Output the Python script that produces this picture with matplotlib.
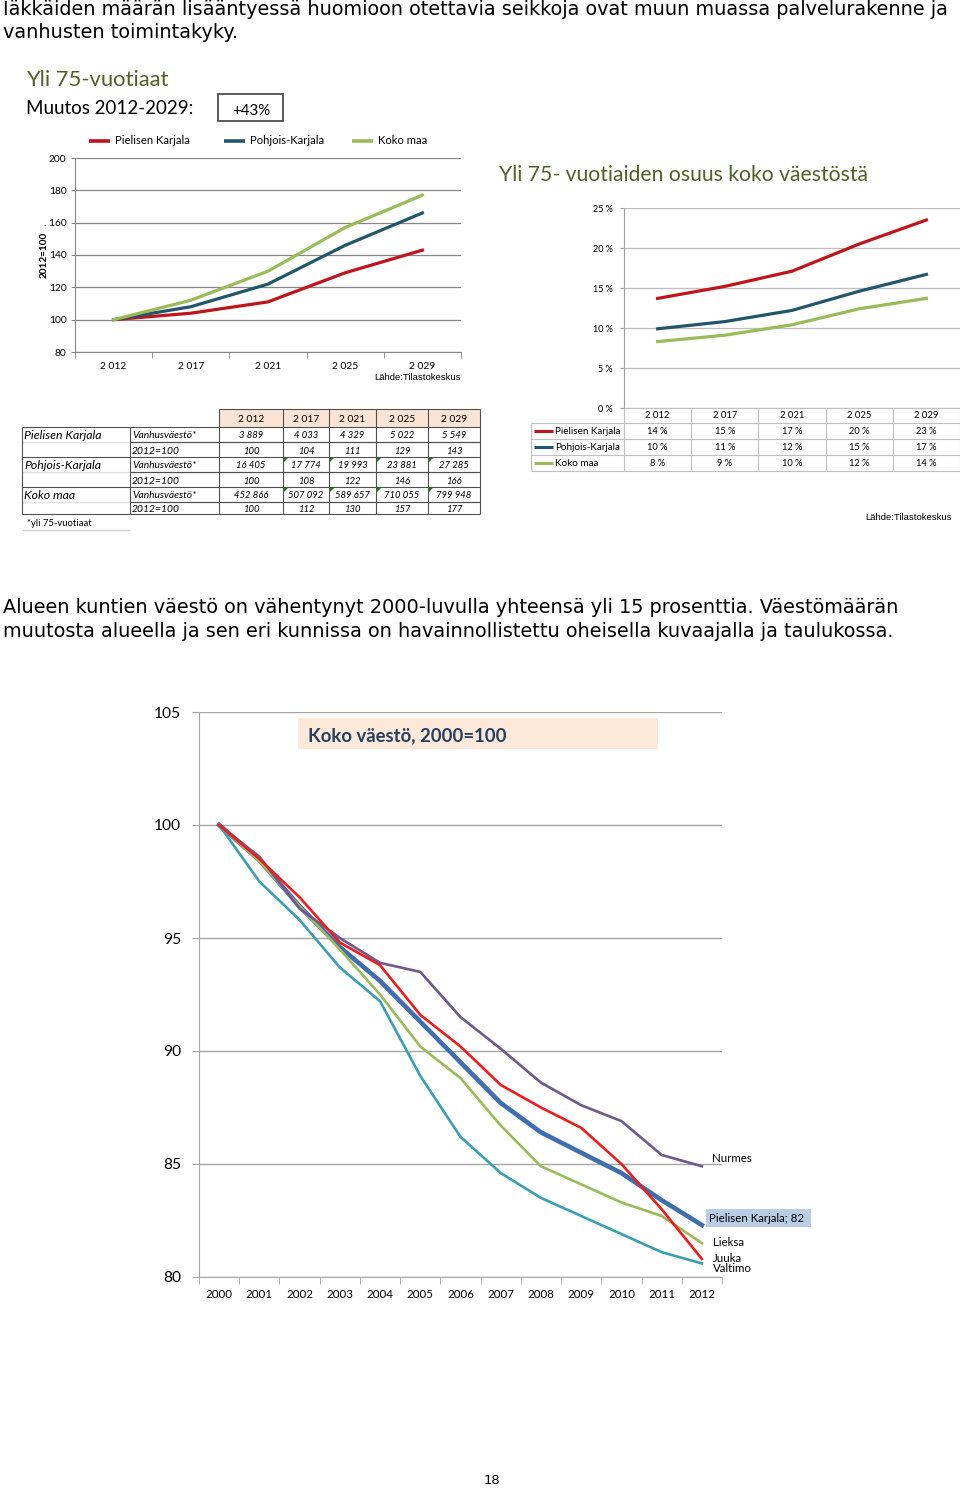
import matplotlib
matplotlib.use('Agg')
import matplotlib.pyplot as plt
from matplotlib.patches import Rectangle, Polygon

# ---------------- data ----------------
years_75 = ['2 012', '2 017', '2 021', '2 025', '2 029']
series_75 = ['Pielisen Karjala', 'Pohjois-Karjala', 'Koko maa']
idx_pielisen = [100, 104, 111, 129, 143]
idx_pohjois = [100, 108, 122, 146, 166]
idx_koko = [100, 112, 130, 157, 177]
pop_pielisen = ['3 889', '4 033', '4 329', '5 022', '5 549']
pop_pohjois = ['16 405', '17 774', '19 993', '23 881', '27 285']
pop_koko = ['452 866', '507 092', '589 657', '710 055', '799 948']
idx_ticks = [80, 100, 120, 140, 160, 180, 200]
idx_ticklabels = ['80', '100', '120', '140', '. 160', '180', '200']

share_pielisen = [13.7, 15.2, 17.1, 20.5, 23.5]
share_pohjois = [9.9, 10.8, 12.2, 14.6, 16.7]
share_koko = [8.3, 9.1, 10.4, 12.4, 13.7]
share_txt_pielisen = ['14 %', '15 %', '17 %', '20 %', '23 %']
share_txt_pohjois = ['10 %', '11 %', '12 %', '15 %', '17 %']
share_txt_koko = ['8 %', '9 %', '10 %', '12 %', '14 %']
share_ticks = [0, 5, 10, 15, 20, 25]

years_pop = ['2000', '2001', '2002', '2003', '2004', '2005', '2006',
             '2007', '2008', '2009', '2010', '2011', '2012']
pop_pielisen_k = [100, 98.45, 96.4, 94.6, 93.1, 91.3, 89.5, 87.7, 86.4, 85.5, 84.6, 83.4, 82.3]
pop_nurmes = [100, 98.6, 96.3, 95.0, 93.9, 93.5, 91.5, 90.1, 88.6, 87.6, 86.9, 85.4, 84.9]
pop_juuka = [100, 98.5, 96.8, 94.8, 93.8, 91.6, 90.2, 88.5, 87.5, 86.6, 85.0, 83.0, 80.8]
pop_lieksa = [100, 98.4, 96.4, 94.5, 92.5, 90.2, 88.8, 86.7, 84.9, 84.1, 83.3, 82.7, 81.5]
pop_valtimo = [100, 97.5, 95.8, 93.7, 92.2, 88.9, 86.2, 84.6, 83.5, 82.7, 81.9, 81.1, 80.6]
pop_ticks = [80, 85, 90, 95, 100, 105]

# ---------------- styles ----------------
W, H = 960, 1488
RED = '#c0141c'
TEAL = '#23566a'
LGREEN = '#9bbb59'
OLIVE = '#4f6228'
CH = 'Lato'
PT = 0.72  # px -> pt

fig = plt.figure(figsize=(W / 100, H / 100), dpi=100)
page = fig.add_axes([0, 0, 1, 1])
page.set_xlim(0, W)
page.set_ylim(H, 0)
page.axis('off')


def ax_px(l, t, r, b):
    a = fig.add_axes([l / W, 1 - b / H, (r - l) / W, (b - t) / H])
    a.set_facecolor('none')
    return a


def ptxt(x, y, s, size, **kw):
    kw.setdefault('va', 'center')
    kw.setdefault('family', CH)
    page.text(x, y, s, fontsize=size * PT, **kw)


def hline(x0, x1, y, c='#404040', lw=0.8):
    page.plot([x0, x1], [y, y], color=c, lw=lw, solid_capstyle='butt')


def vline(x, y0, y1, c='#404040', lw=0.8):
    page.plot([x, x], [y0, y1], color=c, lw=lw, solid_capstyle='butt')


# ---------------- page texts ----------------
body = dict(family='DejaVu Sans', va='baseline')
ptxt(3, 15, 'Iäkkäiden määrän lisääntyessä huomioon otettavia seikkoja ovat muun muassa palvelurakenne ja', 19.3, **body)
ptxt(3, 38, 'vanhusten toimintakyky.', 19.3, **body)
ptxt(3, 613, 'Alueen kuntien väestö on vähentynyt 2000-luvulla yhteensä yli 15 prosenttia. Väestömäärän', 19.3, **body)
ptxt(3, 637, 'muutosta alueella ja sen eri kunnissa on havainnollistettu oheisella kuvaajalla ja taulukossa.', 19.3, **body)
ptxt(492, 1481, '18', 13, family='DejaVu Sans', ha='center')

ptxt(26, 80, 'Yli 75-vuotiaat', 22, color=OLIVE)
ptxt(26, 109, 'Muutos 2012-2029:', 18.8, color='black')
page.add_patch(Rectangle((218, 94), 65, 27, fill=False, ec='#404040', lw=1.2))
ptxt(251, 111, '+43%', 15, ha='center', color='black')

# ---------------- chart 1: index 2012=100 ----------------
a1 = ax_px(75, 158, 461, 352)
xs = range(len(years_75))
a1.plot(xs, idx_pielisen, color=RED, lw=2.3, zorder=3)
a1.plot(xs, idx_pohjois, color=TEAL, lw=2.3, zorder=3)
a1.plot(xs, idx_koko, color=LGREEN, lw=2.3, zorder=3)
a1.set_xlim(-0.5, len(years_75) - 0.5)
a1.set_ylim(80, 200)
a1.set_yticks(idx_ticks)
a1.set_yticklabels(idx_ticklabels, family=CH, fontsize=10.3 * PT)
a1.set_xticks(list(xs))
a1.set_xticklabels(years_75, family=CH, fontsize=10.3 * PT)
a1.set_xticks([i - 0.5 for i in range(len(years_75) + 1)], minor=True)
a1.tick_params(axis='x', which='major', length=0, pad=7)
a1.tick_params(axis='x', which='minor', length=4, color='#868686')
a1.tick_params(axis='y', length=3, color='#868686', pad=3)
a1.grid(axis='y', color='#868686', lw=0.9)
a1.set_axisbelow(True)
for s in ['top', 'right']:
    a1.spines[s].set_visible(False)
for s in ['left', 'bottom']:
    a1.spines[s].set_color('#868686')
a1.set_ylabel('2012=100', family=CH, fontsize=10 * PT, fontweight='bold')
a1.yaxis.set_label_coords(-0.068, 0.5)
ptxt(374, 378, 'Lähde:Tilastokeskus', 9.5, family='Liberation Sans')

# legend chart 1
for x0, name, c in zip([89, 224, 352], series_75, [RED, TEAL, LGREEN]):
    page.plot([x0, x0 + 21], [141, 141], color=c, lw=2.6, solid_capstyle='butt')
    ptxt(x0 + 26, 141, name, 11.3)

# ---------------- table left ----------------
col_b = [219, 283, 329, 376, 428, 480]
row_b = [409, 427, 442, 457, 472, 487, 502, 514]
page.add_patch(Rectangle((219, 409), 261, 18, fc='#fbe4d5', ec='none'))
LC = '#505050'
hline(219, 480, 409, LC)
for y in row_b[1:]:
    hline(22, 480, y, LC)
for y in [row_b[2], row_b[4], row_b[6]]:
    page.plot([22, 130], [y, y], color='white', lw=1.2)
    hline(130, 480, y, LC)
vline(22, 427, 514, LC)
vline(130, 427, 514, LC)
for x in col_b:
    vline(x, 409, 514, LC)
for j, yr in enumerate(years_75):
    ptxt((col_b[j] + col_b[j + 1]) / 2, 419, yr, 10.3, ha='center')
blocks = [(series_75[0], pop_pielisen, idx_pielisen),
          (series_75[1], pop_pohjois, idx_pohjois),
          (series_75[2], pop_koko, idx_koko)]
for k, (name, pops, idxs) in enumerate(blocks):
    r0 = row_b[1 + 2 * k]
    r1 = row_b[2 + 2 * k]
    r2 = row_b[3 + 2 * k]
    ptxt(24, (r0 + r1) / 2 + 1, name, 12.3, style='italic')
    ptxt(132, (r0 + r1) / 2 + 1, 'Vanhusväestö*', 10.3, style='italic')
    ptxt(132, (r1 + r2) / 2 + 1.5, '2012=100', 10.3, style='italic')
    for j in range(len(years_75)):
        cx = (col_b[j] + col_b[j + 1]) / 2
        ptxt(cx, (r0 + r1) / 2 + 1, pops[j], 9.5, ha='center', style='italic')
        ptxt(cx, (r1 + r2) / 2 + 1.5, str(idxs[j]), 9.5, ha='center', style='italic')
        if k > 0 and j > 0:
            x = col_b[j] + 1
            page.add_patch(Polygon([[x, r0 + 1], [x + 4, r0 + 1], [x, r0 + 5]],
                                   closed=True, fc='#1e7b1e', ec='none'))
ptxt(27, 523, '*yli 75-vuotiaat', 9.5)
hline(22, 130, 530, '#d0d0d0', 1.0)

# ---------------- chart 2: share of population ----------------
ptxt(499, 175, 'Yli 75- vuotiaiden osuus koko väestöstä', 21.2, color=OLIVE)
a2 = ax_px(624, 208, 960, 408)
a2.plot(xs, share_pielisen, color=RED, lw=2.3)
a2.plot(xs, share_pohjois, color=TEAL, lw=2.3)
a2.plot(xs, share_koko, color=LGREEN, lw=2.3)
a2.set_xlim(-0.5, len(years_75) - 0.5)
a2.set_ylim(0, 25)
a2.set_yticks(share_ticks)
a2.set_yticklabels([f'{v} %' for v in share_ticks], family=CH, fontsize=9 * PT)
a2.tick_params(axis='y', length=3, color='#a0a0a0', pad=5)
a2.set_xticks([])
a2.grid(axis='y', color='#bfbfbf', lw=0.9)
a2.set_axisbelow(True)
for s in ['top', 'right', 'bottom']:
    a2.spines[s].set_visible(False)
a2.spines['left'].set_color('#a0a0a0')

# data table under chart 2
tc = [624 + 67.2 * i for i in range(6)]
tr = [408, 423, 439, 455, 471]
GC = '#c0c0c0'
for y in tr:
    hline(624 if y == 408 else 531, 960, y, GC)
vline(531, 423, 471, GC)
for x in tc:
    vline(x, 408, 471, GC)
for j, yr in enumerate(years_75):
    ptxt((tc[j] + tc[j + 1]) / 2, 415, yr, 9.5, ha='center')
rows2 = [(series_75[0], RED, share_txt_pielisen),
         (series_75[1], TEAL, share_txt_pohjois),
         (series_75[2], LGREEN, share_txt_koko)]
for i, (name, c, vals) in enumerate(rows2):
    yc = (tr[i + 1] + tr[i + 2]) / 2
    page.plot([534, 553], [yc, yc], color=c, lw=2.2, solid_capstyle='butt')
    ptxt(555, yc, name, 9.9)
    for j in range(len(years_75)):
        ptxt((tc[j] + tc[j + 1]) / 2, yc, vals[j], 9.3, ha='center')
ptxt(865, 518, 'Lähde:Tilastokeskus', 9.5, family='Liberation Sans')

# ---------------- chart 3: population 2000=100 ----------------
a3 = ax_px(199, 712, 722, 1277)
xp = range(len(years_pop))
a3.plot(xp, pop_pielisen_k, color='#3e6db0', lw=3.3, zorder=3)
a3.plot(xp, pop_lieksa, color='#9bbb59', lw=1.9, zorder=4)
a3.plot(xp, pop_valtimo, color='#3a9fb5', lw=1.9, zorder=4)
a3.plot(xp, pop_nurmes, color='#6c5a8e', lw=1.9, zorder=4)
a3.plot(xp, pop_juuka, color='#ee1c1c', lw=1.9, zorder=5)
a3.set_xlim(-0.5, len(years_pop) - 0.5)
a3.set_ylim(80, 105)
a3.set_yticks(pop_ticks)
a3.set_yticklabels([str(v) for v in pop_ticks], family=CH, fontsize=15.5 * PT)
a3.set_xticks(list(xp))
a3.set_xticklabels(years_pop, family=CH, fontsize=11.5 * PT)
a3.set_xticks([i - 0.5 for i in range(len(years_pop) + 1)], minor=True)
a3.tick_params(axis='x', which='major', length=0, pad=9)
a3.tick_params(axis='x', which='minor', length=5, color='#a6a6a6')
a3.tick_params(axis='y', length=5, color='#a6a6a6', pad=8)
a3.grid(axis='y', color='#a6a6a6', lw=1.0)
a3.set_axisbelow(True)
for s in ['top', 'right']:
    a3.spines[s].set_visible(False)
for s in ['left', 'bottom']:
    a3.spines[s].set_color('#a6a6a6')

page.add_patch(Rectangle((298, 718), 360, 31, fc='#fde9d9', ec='none'))
ptxt(308, 736, 'Koko väestö, 2000=100', 18.5, color='#243f60', fontweight='bold')
ptxt(712, 1158, 'Nurmes', 11.5)
page.add_patch(Rectangle((706, 1209), 105, 18, fc='#b9cde5', ec='none'))
ptxt(709, 1218.5, 'Pielisen Karjala; 82', 11.5)
ptxt(713, 1243, 'Lieksa', 11.5)
ptxt(713, 1258, 'Juuka', 11.5)
ptxt(713, 1269, 'Valtimo', 11.5)

fig.savefig('out.png', dpi=100)
